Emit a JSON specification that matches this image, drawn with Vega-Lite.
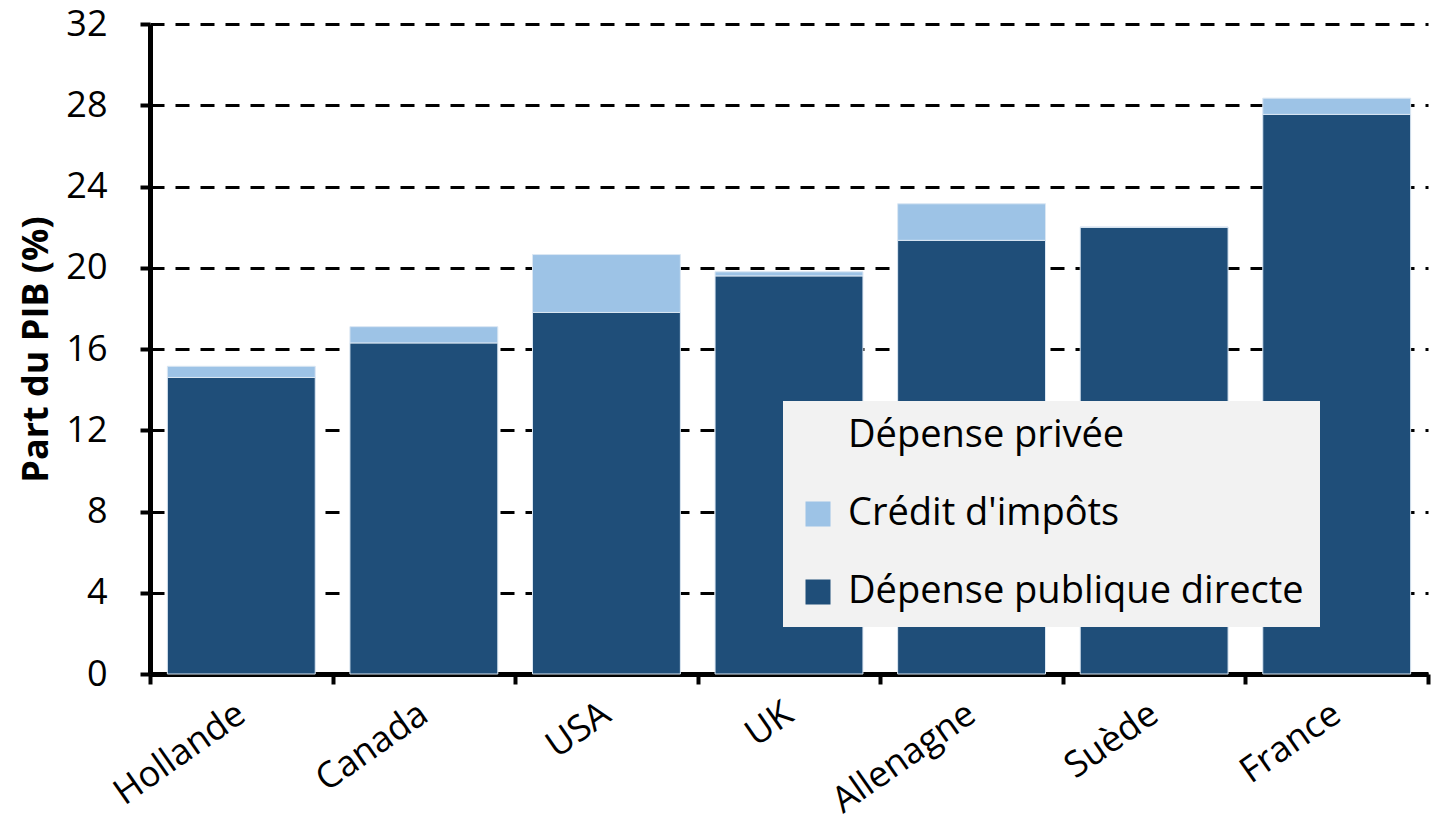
{
  "$schema": "https://vega.github.io/schema/vega-lite/v6.json",
  "width": 1278,
  "height": 650,
  "autosize": "none",
  "padding": {"left": 150, "top": 24, "right": 3, "bottom": 151},
  "background": "white",
  "config": {
    "view": {"stroke": null},
    "font": "Open Sans"
  },
  "data": {
    "values": [
      {"pays": "Hollande", "type": "Dépense publique directe", "valeur": 14.6, "ord": 1},
      {"pays": "Hollande", "type": "Crédit d'impôts", "valeur": 0.55, "ord": 2},
      {"pays": "Canada", "type": "Dépense publique directe", "valeur": 16.3, "ord": 1},
      {"pays": "Canada", "type": "Crédit d'impôts", "valeur": 0.8, "ord": 2},
      {"pays": "USA", "type": "Dépense publique directe", "valeur": 17.8, "ord": 1},
      {"pays": "USA", "type": "Crédit d'impôts", "valeur": 2.85, "ord": 2},
      {"pays": "UK", "type": "Dépense publique directe", "valeur": 19.6, "ord": 1},
      {"pays": "UK", "type": "Crédit d'impôts", "valeur": 0.2, "ord": 2},
      {"pays": "Allenagne", "type": "Dépense publique directe", "valeur": 21.35, "ord": 1},
      {"pays": "Allenagne", "type": "Crédit d'impôts", "valeur": 1.8, "ord": 2},
      {"pays": "Suède", "type": "Dépense publique directe", "valeur": 22.0, "ord": 1},
      {"pays": "Suède", "type": "Crédit d'impôts", "valeur": 0.0, "ord": 2},
      {"pays": "France", "type": "Dépense publique directe", "valeur": 27.55, "ord": 1},
      {"pays": "France", "type": "Crédit d'impôts", "valeur": 0.8, "ord": 2}
    ]
  },
  "mark": {"type": "bar", "stroke": "#dbe7f3", "strokeWidth": 1, "width": {"band": 0.81}},
  "encoding": {
    "x": {
      "field": "pays",
      "type": "nominal",
      "sort": ["Hollande", "Canada", "USA", "UK", "Allenagne", "Suède", "France"],
      "scale": {"paddingInner": 0, "paddingOuter": 0},
      "axis": {
        "title": null,
        "labelAngle": -35,
        "labelFontSize": 36,
        "labelColor": "black",
        "labelPadding": 12,
        "labelOffset": -10,
        "tickBand": "extent",
        "tickSize": 10,
        "tickWidth": 4,
        "tickColor": "black",
        "domainColor": "black",
        "domainWidth": 5,
        "grid": false
      }
    },
    "y": {
      "field": "valeur",
      "type": "quantitative",
      "stack": "zero",
      "scale": {"domain": [0, 32], "nice": false},
      "axis": {
        "title": "Part du PIB (%)",
        "titleFontSize": 36,
        "titleFontWeight": "bold",
        "titleColor": "black",
        "titlePadding": 10,
        "values": [0, 4, 8, 12, 16, 20, 24, 28, 32],
        "labelFontSize": 36,
        "labelColor": "black",
        "labelPadding": 33,
        "tickSize": 10,
        "tickWidth": 4,
        "tickColor": "black",
        "domainColor": "black",
        "domainWidth": 5,
        "grid": true,
        "gridColor": "black",
        "gridWidth": 3,
        "gridDash": [14, 11]
      }
    },
    "color": {
      "field": "type",
      "type": "nominal",
      "scale": {
        "domain": ["Dépense privée", "Crédit d'impôts", "Dépense publique directe"],
        "range": ["transparent", "#9dc3e6", "#1f4e79"]
      },
      "legend": {
        "title": null,
        "orient": "none",
        "legendX": 633,
        "legendY": 377,
        "fillColor": "#f2f2f2",
        "padding": 16,
        "symbolType": "square",
        "symbolSize": 625,
        "symbolStrokeWidth": 0,
        "labelFontSize": 38,
        "labelColor": "black",
        "labelOffset": 11,
        "labelLimit": 700,
        "rowPadding": 40
      }
    },
    "order": {"field": "ord", "type": "quantitative"}
  }
}
